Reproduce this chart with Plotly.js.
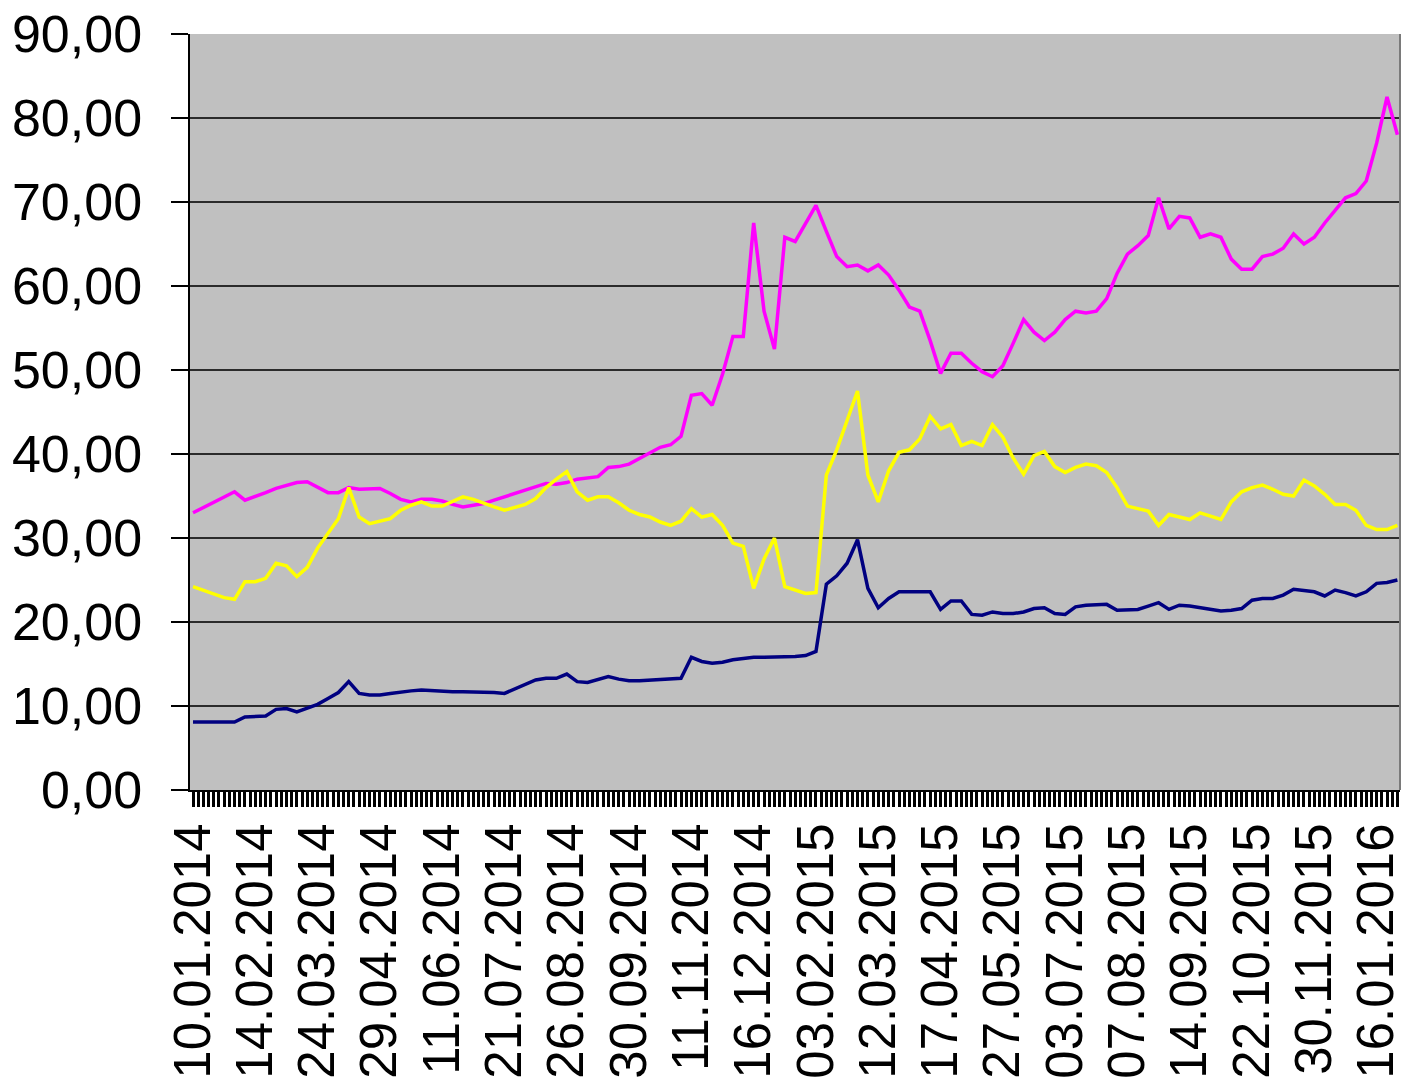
<!DOCTYPE html>
<html>
<head>
<meta charset="utf-8">
<script src="https://cdn.plot.ly/plotly-3.0.1.min.js"></script>
<style>html,body{margin:0;padding:0;background:#fff;}#chart{width:1416px;height:1090px;}</style>
</head>
<body>
<div id="chart"></div>
<script>
// Tick labels (one every 6 samples)
const dateLabels = ["10.01.2014","14.02.2014","24.03.2014","29.04.2014","11.06.2014","21.07.2014","26.08.2014","30.09.2014","11.11.2014","16.12.2014","03.02.2015","12.03.2015","17.04.2015","27.05.2015","03.07.2015","07.08.2015","14.09.2015","22.10.2015","30.11.2015","16.01.2016"];
const samplesPerLabel = 6;

const magenta = [33.0,33.6,34.2,34.8,35.5,34.5,34.9,35.4,35.9,36.3,36.6,36.7,36.0,35.4,35.4,36.0,35.8,35.8,35.9,35.3,34.6,34.3,34.6,34.6,34.4,34.0,33.7,33.9,34.1,34.5,34.9,35.3,35.6,36.0,36.5,36.4,36.6,37.0,37.2,37.3,38.4,38.5,38.8,39.5,40.2,40.8,41.1,42.1,47.0,47.2,45.8,49.5,54.0,54.0,67.5,57.0,52.5,65.8,65.3,67.5,69.6,66.5,63.5,62.3,62.5,61.8,62.5,61.3,59.5,57.5,57.0,53.5,49.6,52.0,52.0,50.8,49.8,49.2,50.5,53.2,56.0,54.5,53.5,54.5,56.0,57.0,56.8,57.0,58.5,61.5,63.8,64.8,66.0,70.5,66.8,68.3,68.1,65.8,66.2,65.8,63.2,62.0,62.0,63.5,63.8,64.5,66.2,65.0,65.8,67.5,69.0,70.5,71.0,72.5,77.0,82.5,78.0];
const yellow = [24.2,23.8,23.4,22.9,22.7,24.8,24.8,25.2,27.0,26.7,25.4,26.5,28.8,30.6,32.3,36.0,32.5,31.7,32.0,32.3,33.3,33.9,34.3,33.8,33.8,34.3,34.9,34.6,34.1,33.7,33.3,33.6,34.0,34.7,36.0,37.0,37.9,35.5,34.5,34.9,34.9,34.2,33.3,32.8,32.5,31.9,31.5,32.0,33.5,32.5,32.8,31.5,29.4,29.0,24.0,27.5,30.0,24.2,23.8,23.4,23.5,37.5,40.5,44.0,47.5,37.5,34.3,38.0,40.2,40.5,41.8,44.5,43.0,43.5,41.0,41.5,41.0,43.5,42.0,39.5,37.6,39.8,40.3,38.5,37.8,38.4,38.8,38.6,37.8,36.0,33.8,33.5,33.2,31.5,32.8,32.5,32.2,33.0,32.6,32.2,34.3,35.5,36.0,36.3,35.8,35.2,35.0,36.9,36.2,35.2,34.0,34.0,33.3,31.5,31.0,31.0,31.5];
const navy = [8.1,8.1,8.1,8.1,8.1,8.7,8.7,8.8,9.6,9.7,9.3,9.7,10.2,10.9,11.6,12.9,11.5,11.3,11.3,11.5,11.7,11.8,11.9,11.8,11.7,11.7,11.7,11.7,11.7,11.6,11.5,12.0,12.5,13.1,13.3,13.3,13.8,12.9,12.8,13.1,13.5,13.2,13.0,13.0,13.1,13.1,13.2,13.3,15.8,15.3,15.1,15.2,15.5,15.7,15.8,15.8,15.8,15.8,15.9,16.0,16.5,24.5,25.5,27.0,29.8,24.0,21.7,22.8,23.6,23.6,23.6,23.6,21.5,22.5,22.5,20.9,20.8,21.2,21.0,21.0,21.2,21.6,21.7,21.0,20.9,21.8,22.0,22.0,22.1,21.4,21.4,21.5,21.9,22.3,21.5,22.0,21.9,21.7,21.5,21.3,21.4,21.6,22.6,22.8,22.8,23.2,23.9,23.8,23.6,23.1,23.8,23.5,23.1,23.6,24.6,24.7,25.0];
const yTicks = [0,10,20,30,40,50,60,70,80,90];

const tickPositions = dateLabels.map((d, k) => k * samplesPerLabel);

const mk = (vals, color) => ({
  y: vals, type: 'scatter', mode: 'lines',
  line: {color: color, width: 3.5}, hoverinfo: 'skip', showlegend: false
});

const data = [mk(magenta, '#ff00ff'), mk(yellow, '#ffff00'), mk(navy, '#000080')];

const fontFam = '"Liberation Sans", Arial, sans-serif';

const layout = {
  width: 1416, height: 1090,
  margin: {l: 190, r: 16, t: 34, b: 300, pad: 0},
  paper_bgcolor: '#ffffff',
  plot_bgcolor: '#c0c0c0',
  separators: ', ',
  showlegend: false,
  font: {family: fontFam, color: '#000'},
  xaxis: {
    range: [-0.29, 116.25],
    tickmode: 'array', tickvals: tickPositions, ticktext: dateLabels,
    tickangle: -90,
    tickfont: {family: fontFam, size: 51, color: '#000'},
    ticks: 'outside', ticklen: 15, tickwidth: 3, tickcolor: '#000',
    ticklabelstandoff: -4,
    minor: {tickmode: 'linear', tick0: 0, dtick: 0.5, ticks: 'outside', ticklen: 15, tickwidth: 3, tickcolor: '#000', showgrid: false},
    showgrid: false, zeroline: false,
    showline: true, linecolor: '#000', linewidth: 2,
    automargin: false, fixedrange: true
  },
  yaxis: {
    range: [0, 90],
    tickmode: 'array', tickvals: yTicks,
    tickformat: '.2f',
    tickfont: {family: fontFam, size: 52, color: '#000'},
    ticks: 'outside', ticklen: 17, tickwidth: 2, tickcolor: '#000',
    ticklabelstandoff: 18,
    showgrid: true, gridcolor: '#2b2b2b', gridwidth: 2.5,
    zeroline: false,
    showline: true, linecolor: '#000', linewidth: 2.5,
    automargin: false, fixedrange: true
  },
  shapes: [
    {type: 'line', xref: 'paper', yref: 'paper', x0: 1, x1: 1, y0: 0, y1: 1, line: {color: '#7a7a7a', width: 2}}
  ]
};

Plotly.newPlot('chart', data, layout, {staticPlot: true, displayModeBar: false});
</script>
</body>
</html>
